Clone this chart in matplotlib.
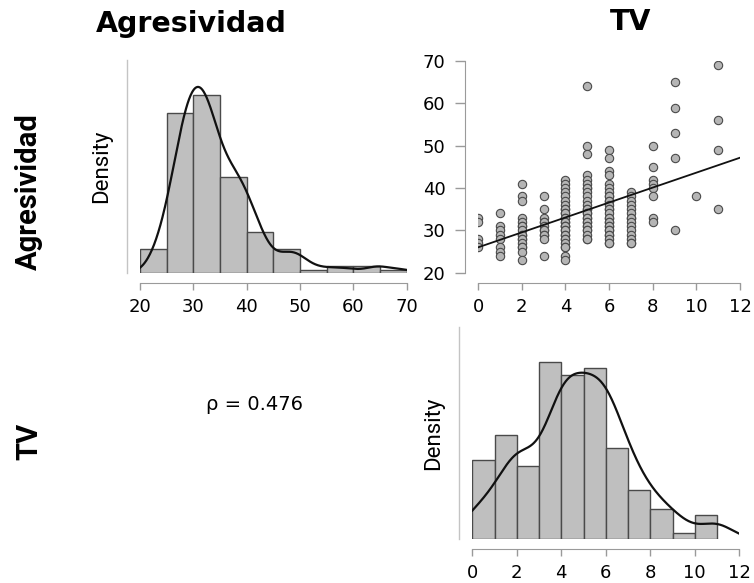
import numpy as np
import pandas as pd
import matplotlib
matplotlib.use("Agg")
import matplotlib.pyplot as plt

# ---------------- data (Agresividad values at each TV level) ----------------
agr_at_tv0 = [33, 32, 28, 27, 26]
agr_at_tv1 = [34, 31, 30, 29, 28, 26, 25, 24]
agr_at_tv2 = [41, 38, 37, 33, 32, 31, 31, 30, 29, 29, 28, 28, 27, 26, 26, 25, 23]
agr_at_tv3 = [38, 35, 33, 32, 32, 31, 30, 30, 29, 29, 28, 24]
agr_at_tv4 = [42, 41, 40, 39, 38, 37, 36, 35, 35, 34, 34, 33, 33, 32, 32, 31, 31, 31,
              30, 30, 29, 29, 28, 28, 27, 26, 26, 24, 23]
agr_at_tv5 = [64, 50, 48, 43, 42, 41, 40, 40, 39, 38, 37, 36, 35, 35, 34, 34, 33, 33,
              32, 32, 31, 31, 30, 30, 29, 28, 28]
agr_at_tv6 = [49, 47, 44, 43, 41, 40, 39, 38, 38, 37, 37, 36, 35, 35, 34, 33, 33, 32,
              32, 31, 31, 30, 30, 29, 29, 28, 27, 27]
agr_at_tv7 = [39, 38, 37, 36, 35, 34, 33, 33, 32, 31, 30, 29, 28, 27, 27]
agr_at_tv8 = [50, 45, 42, 41, 40, 38, 33, 32]
agr_at_tv9 = [65, 59, 53, 47, 30]
agr_at_tv10 = [38]
agr_at_tv11 = [69, 56, 49, 35]

tv_levels = list(range(12))
groups = [agr_at_tv0, agr_at_tv1, agr_at_tv2, agr_at_tv3, agr_at_tv4, agr_at_tv5,
          agr_at_tv6, agr_at_tv7, agr_at_tv8, agr_at_tv9, agr_at_tv10, agr_at_tv11]

tv = np.concatenate([[lv] * len(g) for lv, g in zip(tv_levels, groups)]).astype(float)
agr = np.concatenate(groups).astype(float)

agr_ticks = [20, 30, 40, 50, 60, 70]
tv_ticks = [0, 2, 4, 6, 8, 10, 12]
agr_edges = np.arange(20, 71, 5)
tv_edges = np.arange(0, 12, 1)
col_titles = ["Agresividad", "TV"]
rho_value = 0.476  # Spearman rho as printed in the chart

# ---------------- helpers ----------------
W, H = 754, 583
fig = plt.figure(figsize=(W / 100, H / 100), dpi=100)
fig.patch.set_facecolor("white")


def px_axes(left, right, top, bottom):
    return fig.add_axes([left / W, 1 - bottom / H, (right - left) / W, (bottom - top) / H])


def r_hist_density(x, edges):
    cats = pd.cut(x, bins=edges, right=True, include_lowest=True)
    counts = pd.Series(cats).value_counts(sort=False).values.astype(float)
    widths = np.diff(edges)
    return counts / (len(x) * widths)


def kde(x, grid):
    x = np.asarray(x, float)
    n = len(x)
    sd = np.std(x, ddof=1)
    iqr = np.subtract(*np.percentile(x, [75, 25]))
    bw = 0.9 * min(sd, iqr / 1.34) * n ** (-0.2)
    z = (grid[:, None] - x[None, :]) / bw
    return np.exp(-0.5 * z ** 2).sum(axis=1) / (n * bw * np.sqrt(2 * np.pi))


BAR_FC = "#bfbfbf"
BAR_EC = "#4a4a4a"
AX_C = "#9a9a9a"
DENS_C = "#c4c4c4"
TICK_FS = 13
LAB_FONT = ["Roboto", "DejaVu Sans"]


def style_hist_axes(ax, xlo, xhi, ticks):
    for s in ["top", "right"]:
        ax.spines[s].set_visible(False)
    ax.spines["left"].set_position(("outward", 9.4))
    ax.spines["left"].set_color(DENS_C)
    ax.spines["left"].set_linewidth(1.0)
    ax.spines["bottom"].set_position(("outward", 7.2))
    ax.spines["bottom"].set_bounds(xlo, xhi)
    ax.spines["bottom"].set_color(AX_C)
    ax.set_yticks([])
    ax.set_xticks(ticks)
    ax.set_xlim(xlo, xhi)
    ax.tick_params(axis="x", length=5, width=1, color=AX_C, labelsize=TICK_FS, pad=6)
    ax.set_facecolor("none")


def draw_hist(ax, x, edges, xlo, xhi):
    dens = r_hist_density(x, edges)
    ax.bar(edges[:-1], dens, width=np.diff(edges), align="edge",
           color=BAR_FC, edgecolor=BAR_EC, linewidth=1.0)
    grid = np.linspace(xlo, xhi, 512)
    ax.plot(grid, kde(x, grid), color="#111111", lw=1.6)
    ax.set_ylim(0, dens.max() * 1.2)


# ---------------- top-left: Agresividad histogram ----------------
ax1 = px_axes(140, 406.7, 60, 273)
draw_hist(ax1, agr, agr_edges, 20, 70)
style_hist_axes(ax1, 20, 70, agr_ticks)
ax1.set_ylabel("Density", family=LAB_FONT, fontsize=16, labelpad=11)

# ---------------- top-right: scatter ----------------
ax2 = px_axes(478, 740, 61, 272.7)
ax2.scatter(tv, agr, s=36, facecolor="#b5b5b5", edgecolor="#4a4a4a", linewidth=0.8, zorder=3)
slope, intercept = np.polyfit(tv, agr, 1)
xl = np.array([0, 12])
ax2.plot(xl, intercept + slope * xl, color="#111111", lw=1.3, zorder=4)
ax2.set_xlim(0, 12)
ax2.set_ylim(20, 70)
for s in ["top", "right"]:
    ax2.spines[s].set_visible(False)
ax2.spines["left"].set_position(("outward", 9.4))
ax2.spines["bottom"].set_position(("outward", 7.2))
ax2.spines["left"].set_color(AX_C)
ax2.spines["bottom"].set_color(AX_C)
ax2.set_xticks(tv_ticks)
ax2.set_yticks(agr_ticks)
ax2.tick_params(axis="x", length=5, width=1, color=AX_C, labelsize=TICK_FS, pad=6)
ax2.tick_params(axis="y", length=7, width=1, color=AX_C, labelsize=TICK_FS, pad=7)
ax2.set_facecolor("none")

# ---------------- bottom-right: TV histogram ----------------
ax3 = px_axes(472.3, 739.3, 327, 539)
draw_hist(ax3, tv, tv_edges, 0, 12)
style_hist_axes(ax3, 0, 12, tv_ticks)
ax3.tick_params(axis="x", pad=6)
ax3.set_ylabel("Density", family=LAB_FONT, fontsize=16, labelpad=11)

# ---------------- texts ----------------
fig.text(191 / W, 1 - 24 / H, col_titles[0], ha="center", va="center",
         fontsize=20.5, fontweight="bold", family="DejaVu Sans")
fig.text(631 / W, 1 - 22 / H, col_titles[1], ha="center", va="center",
         fontsize=20.5, fontweight="bold", family="DejaVu Sans")
fig.text(29 / W, 1 - 192 / H, col_titles[0], ha="center", va="center", rotation=90,
         fontsize=21, fontweight="bold", family=LAB_FONT)
fig.text(29 / W, 1 - 441 / H, col_titles[1], ha="center", va="center", rotation=90,
         fontsize=21, fontweight="bold", family=LAB_FONT)
fig.text(254 / W, 1 - 404 / H, f"ρ = {rho_value:.3f}", ha="center", va="center",
         fontsize=14, family="DejaVu Sans")

fig.savefig("out.png", dpi=100, facecolor="white")
